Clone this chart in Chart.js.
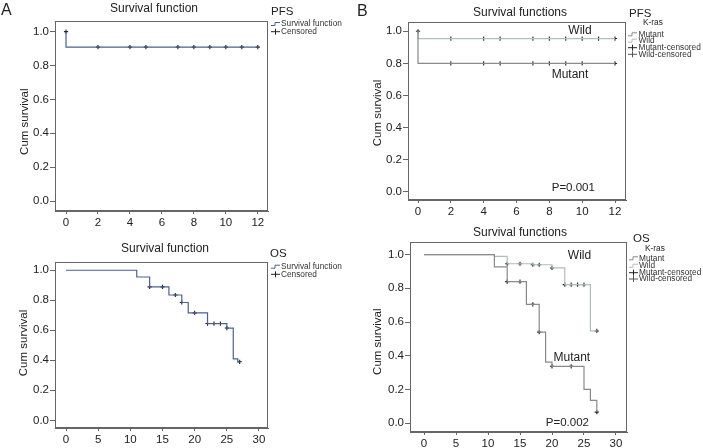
<!DOCTYPE html>
<html>
<head>
<meta charset="utf-8">
<script src="https://cdn.jsdelivr.net/npm/chart.js@4/dist/chart.umd.min.js"></script>
<style>
  body { margin: 0; background: #fff; }
  #wrap { position: relative; width: 703px; height: 448px; }
  #wrap canvas { position: absolute; left: 0; top: 0; }
</style>
</head>
<body>
<div id="wrap">
  <canvas id="pfsA" width="703" height="448"></canvas>
  <canvas id="osA" width="703" height="448"></canvas>
  <canvas id="pfsB" width="703" height="448"></canvas>
  <canvas id="osB" width="703" height="448"></canvas>
</div>
<script>
// tick labels
const pfsTicks = [0, 2, 4, 6, 8, 10, 12];
const osTicks = [0, 5, 10, 15, 20, 25, 30];
const survTicks = [0, 0.2, 0.4, 0.6, 0.8, 1.0];

// A - PFS, all patients
const pfsAllTime = [0, 0, 12];
const pfsAllSurv = [1, 0.909, 0.909];
const pfsAllCensTime = [0, 2, 4, 5, 7, 8, 9, 10, 11, 12];
const pfsAllCensSurv = [1, 0.909, 0.909, 0.909, 0.909, 0.909, 0.909, 0.909, 0.909, 0.909];

// A - OS, all patients
const osAllTime = [0, 11, 13, 16, 18, 19, 22, 25, 26, 26.7, 27];
const osAllSurv = [1, 0.955, 0.889, 0.835, 0.785, 0.716, 0.645, 0.615, 0.41, 0.39, 0.39];
const osAllCensTime = [13, 15, 17, 18, 20, 22, 23, 24, 25, 27];
const osAllCensSurv = [0.889, 0.889, 0.835, 0.785, 0.716, 0.645, 0.645, 0.645, 0.615, 0.39];

// B - PFS by K-ras
const pfsMutTime = [0, 0, 12];
const pfsMutSurv = [1, 0.8, 0.8];
const pfsMutCensTime = [2, 4, 5, 7, 8, 9, 10, 12];
const pfsMutCensSurv = [0.8, 0.8, 0.8, 0.8, 0.8, 0.8, 0.8, 0.8];
const pfsWildTime = [0, 0, 12];
const pfsWildSurv = [1, 0.955, 0.955];
const pfsWildCensTime = [0, 2, 4, 5, 7, 8, 9, 10, 11, 12];
const pfsWildCensSurv = [1, 0.955, 0.955, 0.955, 0.955, 0.955, 0.955, 0.955, 0.955, 0.955];

// B - OS by K-ras
const osMutTime = [0, 11, 13, 16, 18, 19, 20, 25, 26, 27];
const osMutSurv = [1, 0.927, 0.84, 0.705, 0.54, 0.362, 0.337, 0.2, 0.135, 0.065];
const osMutCensTime = [13, 15, 17, 18, 20, 23, 27];
const osMutCensSurv = [0.84, 0.84, 0.705, 0.54, 0.337, 0.337, 0.065];
const osWildTime = [0, 11, 13, 17, 20, 22, 26, 27];
const osWildSurv = [1, 0.99, 0.946, 0.94, 0.921, 0.822, 0.547, 0.547];
const osWildCensTime = [13, 15, 17, 18, 20, 22, 23, 24, 25, 27];
const osWildCensSurv = [0.946, 0.946, 0.94, 0.94, 0.921, 0.822, 0.822, 0.822, 0.822, 0.547];

const FONT = "'Liberation Sans', Arial, sans-serif";
const allColor = '#4c6190';
const mutColor = '#8a8a8a';
const wildColor = '#aebfb8';
const censColor = '#222';
const axisColor = '#666';
const Y_W = 40, X_H = 22;

function pts(xs, ys) {
  return xs.map((x, i) => ({ x: x, y: ys[i] }));
}

function curve(xs, ys, color) {
  return { data: pts(xs, ys), showLine: true, stepped: true, borderColor: color,
           borderWidth: 1.2, pointRadius: 0, fill: false };
}

function censored(xs, ys) {
  return { data: pts(xs, ys), showLine: false, pointStyle: 'cross', pointRadius: 2.1,
           borderColor: censColor, pointBorderColor: censColor, pointBorderWidth: 1.1 };
}

function txt(ctx, s, x, y, size, align) {
  ctx.font = size + 'px ' + FONT;
  ctx.textAlign = align || 'center';
  ctx.textBaseline = 'middle';
  ctx.fillText(s, x, y);
}

// box, titles, legend and labels for one panel
function makeDecor(o) {
  return {
    id: 'decor',
    afterDraw(chart) {
      const ctx = chart.ctx, a = chart.chartArea;
      const xs = chart.scales.x, ys = chart.scales.y;
      ctx.save();
      ctx.strokeStyle = axisColor;
      ctx.lineWidth = 1;
      ctx.strokeRect(a.left + 0.5, a.top + 0.5, a.right - a.left - 1, a.bottom - a.top - 1);
      ctx.fillStyle = '#222';
      if (o.letter) {
        ctx.font = '16px ' + FONT;
        ctx.textAlign = 'left';
        ctx.textBaseline = 'alphabetic';
        ctx.fillText(o.letter[0], o.letter[1], o.letter[2]);
      }
      txt(ctx, o.title[0], o.title[1], o.title[2], 12);
      ctx.save();
      ctx.translate(o.yTitle[0], o.yTitle[1]);
      ctx.rotate(-Math.PI / 2);
      txt(ctx, 'Cum survival', 0, 0, 11.5);
      ctx.restore();
      // legend
      const lg = o.key;
      txt(ctx, lg.head, lg.hx, lg.hy, 11.5, 'left');
      if (lg.sub) txt(ctx, lg.sub, lg.sx, lg.sy, 8.3, 'left');
      ctx.fillStyle = '#333';
      lg.items.forEach((it, i) => {
        const y = lg.rows[i], x = lg.symX;
        ctx.strokeStyle = it.color;
        ctx.lineWidth = 1;
        ctx.beginPath();
        if (it.kind === 'line') {
          ctx.moveTo(x, y + 1.5); ctx.lineTo(x + 4, y + 1.5);
          ctx.lineTo(x + 4, y - 1.5); ctx.lineTo(x + 9, y - 1.5);
        } else {
          ctx.moveTo(x, y); ctx.lineTo(x + 9, y);
          ctx.moveTo(x + 4.5, y - 3); ctx.lineTo(x + 4.5, y + 3);
        }
        ctx.stroke();
        txt(ctx, it.label, lg.textX, y, 8.3, 'left');
      });
      // labels inside the plot, placed in data units
      ctx.fillStyle = '#222';
      (o.notes || []).forEach(n => {
        txt(ctx, n[0], xs.getPixelForValue(n[1]), ys.getPixelForValue(n[2]), n[3]);
      });
      ctx.restore();
    }
  };
}

function makeChart(id, p) {
  const [L, T, R, B] = p.area;
  new Chart(document.getElementById(id), {
    type: 'scatter',
    data: { datasets: p.datasets },
    options: {
      responsive: false,
      animation: false,
      events: [],
      layout: { padding: { left: L - Y_W, top: T, right: 703 - R, bottom: 448 - B - X_H } },
      plugins: { legend: { display: false }, tooltip: { enabled: false } },
      scales: {
        x: {
          type: 'linear', min: p.xRange[0], max: p.xRange[1],
          afterBuildTicks: s => { s.ticks = p.xTicks.map(v => ({ value: v })); },
          afterFit: s => { s.height = X_H; },
          ticks: { callback: v => String(v), color: '#222', padding: 2, maxRotation: 0,
                   font: { family: FONT, size: 11.5 } },
          grid: { drawOnChartArea: false, tickLength: 3, tickColor: axisColor },
          border: { color: axisColor }
        },
        y: {
          type: 'linear', min: p.yRange[0], max: p.yRange[1],
          afterBuildTicks: s => { s.ticks = survTicks.map(v => ({ value: v })); },
          afterFit: s => { s.width = Y_W; },
          ticks: { callback: v => v.toFixed(1), color: '#222', padding: 1,
                   font: { family: FONT, size: 11.5 } },
          grid: { drawOnChartArea: false, tickLength: 5, tickColor: axisColor },
          border: { color: axisColor }
        }
      }
    },
    plugins: [makeDecor(p.decor)]
  });
}

const legendAll = [
  { kind: 'line', label: 'Survival function', color: allColor },
  { kind: 'cross', label: 'Censored', color: censColor }
];
const legendKras = [
  { kind: 'line', label: 'Mutant', color: mutColor },
  { kind: 'line', label: 'Wild', color: wildColor },
  { kind: 'cross', label: 'Mutant-censored', color: censColor },
  { kind: 'cross', label: 'Wild-censored', color: '#555' }
];

makeChart('pfsA', {
  area: [55, 21, 268, 211], xRange: [-0.69, 12.64], yRange: [-0.059, 1.063], xTicks: pfsTicks,
  datasets: [curve(pfsAllTime, pfsAllSurv, allColor), censored(pfsAllCensTime, pfsAllCensSurv)],
  decor: {
    letter: ['A', 1, 15], title: ['Survival function', 154, 9], yTitle: [25, 121.7],
    key: { head: 'PFS', hx: 271, hy: 11.7, symX: 271, textX: 281, rows: [24, 31.7], items: legendAll }
  }
});

makeChart('osA', {
  area: [55, 262, 268, 428], xRange: [-1.71, 31.4], yRange: [-0.051, 1.055], xTicks: osTicks,
  datasets: [curve(osAllTime, osAllSurv, allColor), censored(osAllCensTime, osAllCensSurv)],
  decor: {
    title: ['Survival function', 165, 248.3], yTitle: [24, 343],
    key: { head: 'OS', hx: 270, hy: 254, symX: 271, textX: 281, rows: [266.7, 274.3], items: legendAll }
  }
});

makeChart('pfsB', {
  area: [408, 22, 626, 200], xRange: [-0.61, 12.67], yRange: [-0.05, 1.058], xTicks: pfsTicks,
  datasets: [
    curve(pfsMutTime, pfsMutSurv, mutColor), curve(pfsWildTime, pfsWildSurv, wildColor),
    censored(pfsMutCensTime, pfsMutCensSurv), censored(pfsWildCensTime, pfsWildCensSurv)
  ],
  decor: {
    letter: ['B', 357, 15.5], title: ['Survival functions', 520, 12.3], yTitle: [378.3, 113],
    key: { head: 'PFS', hx: 629, hy: 14, sub: 'K-ras', sx: 643, sy: 22.7,
           symX: 628, textX: 638.5, rows: [34.3, 40.7, 47.7, 54.3], items: legendKras },
    notes: [['Wild', 9.87, 1.006, 12], ['Mutant', 9.26, 0.733, 12], ['P=0.001', 9.46, 0.027, 11.5]]
  }
});

makeChart('osB', {
  area: [410, 242, 627, 432], xRange: [-2.19, 31.72], yRange: [-0.053, 1.075], xTicks: osTicks,
  datasets: [
    curve(osMutTime, osMutSurv, mutColor), curve(osWildTime, osWildSurv, wildColor),
    censored(osMutCensTime, osMutCensSurv), censored(osWildCensTime, osWildCensSurv)
  ],
  decor: {
    title: ['Survival functions', 520, 232.3], yTitle: [378, 341.7],
    key: { head: 'OS', hx: 633, hy: 238.8, sub: 'K-ras', sx: 645, sy: 249,
           symX: 629, textX: 639, rows: [258.3, 265.7, 272.7, 279], items: legendKras },
    notes: [['Wild', 24.3, 0.996, 12], ['Mutant', 23.1, 0.386, 12], ['P=0.002', 22.4, 0.0, 11.5]]
  }
});
</script>
</body>
</html>
